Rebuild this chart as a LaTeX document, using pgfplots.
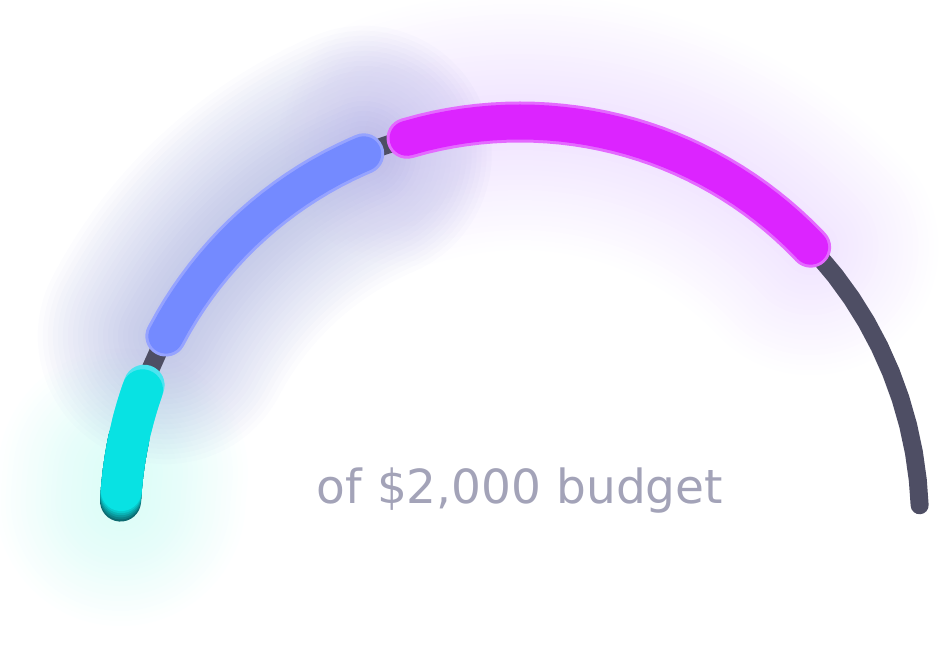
\documentclass[border=0pt]{standalone}
\usepackage{pgfplots}
\pgfplotsset{compat=1.18}
\usepackage{pgfplotstable}
\usepackage{fontspec}
\setmainfont{DejaVu Sans}
\definecolor{trackc}{HTML}{4E4E64}
\definecolor{cyanmain}{HTML}{08E2E3}
\definecolor{cyanlight}{HTML}{4CE4F0}
\definecolor{cyandk}{HTML}{0B6A70}
\definecolor{bluemain}{HTML}{748AFF}
\definecolor{blueedge}{HTML}{96A3FF}
\definecolor{magmain}{HTML}{DC24FF}
\definecolor{magedge}{HTML}{E46AFF}
\definecolor{txtc}{HTML}{A3A3B8}
\definecolor{glowblue}{HTML}{5E6CC0}
\definecolor{glowmag}{HTML}{B070FF}
\definecolor{glowcyan}{HTML}{70F4E0}

% angle (deg), radius (px)
\pgfplotstableread{
a r
2.4 400
6 400
10 400
14 400
18 400
22 400
26 400
30 400
34 400
38 400
42 400
46 400
50 400
54 400
58 400
62 400
66 400
70 400
74 400
78 400
82 400
86 400
90 400
94 400
98 400
102 400
106 400
110 400
114 400
118 400
122 400
126 400
130 400
134 400
138 400
142 400
146 400
150 400
154 400
158 400
162 400
166 400
170 400
174 400
177 400
}\track
\pgfplotstableread{
a r
177 400
176 400
175 400
174 400
173 400
}\cyanglow
\pgfplotstableread{
a r
177.0 400
175 400
173 400
171 400
169 400
168 400
}\cyanA
\pgfplotstableread{
a r
176.7 400
175 400
173 400
171 400
169 400
168 400
}\cyanB
\pgfplotstableread{
a r
176.4 400
175 400
173 400
171 400
169 400
168 400
}\cyanC
\pgfplotstableread{
a r
176.1 400
175 400
173 400
171 400
169 400
168 400
}\cyanD
\pgfplotstableread{
a r
175.8 400
174 400
172 400
170 400
168 400
}\cyanE
\pgfplotstableread{
a r
166 400
164 400
162 400
160 400
}\cyantop
\pgfplotstableread{
a r
175.5 400
173 400
171 400
169 400
167 400
165 400
163 400
161.5 400
160.7 400
}\cyanmainseg
\pgfplotstableread{
a r
152.3 400
150 400
148 400
146 400
144 400
142 400
140 400
138 400
136 400
134 400
132 400
130 400
128 400
126 400
124 400
122 400
120 400
118 400
116 400
114 400
113 400
}\blueseg
\pgfplotstableread{
a r
106.4 400
104 400
102 400
100 400
98 400
96 400
94 400
92 400
90 400
88 400
86 400
84 400
82 400
80 400
78 400
76 400
74 400
72 400
70 400
68 400
66 400
64 400
62 400
60 400
58 400
56 400
54 400
52 400
50 400
48 400
46 400
44 400
43.4 400
}\magseg

\begin{document}
\begin{tikzpicture}
\begin{axis}[
  width=470pt, height=326pt, scale only axis,
  xmin=-520, xmax=420, ymin=-130, ymax=522,
  hide axis, clip=true,
]
% glows
\pgfplotsinvokeforeach{1,...,22}{
  \addplot[data cs=polar, glowcyan, opacity=0.013, line cap=round, line join=round,
    line width={15pt+5pt*#1}] table[x=a,y=r] {\cyanglow};
}
\pgfplotsinvokeforeach{1,...,22}{
  \addplot[data cs=polar, glowblue, opacity=0.018, line cap=round, line join=round,
    line width={18pt+5pt*#1}] table[x=a,y=r] {\blueseg};
}
\pgfplotsinvokeforeach{1,...,22}{
  \addplot[data cs=polar, glowmag, opacity=0.008, line cap=round, line join=round,
    line width={18pt+5pt*#1}] table[x=a,y=r] {\magseg};
}
% track
\addplot[data cs=polar, trackc, line width=9pt, line cap=round, line join=round] table[x=a,y=r] {\track};
% cyan segment with shading
\addplot[data cs=polar, cyandk, line width=20.5pt, line cap=round, line join=round] table[x=a,y=r] {\cyanA};
\addplot[data cs=polar, cyanmain!20!cyandk, line width=20.5pt, line cap=round, line join=round] table[x=a,y=r] {\cyanB};
\addplot[data cs=polar, cyanmain!40!cyandk, line width=20.5pt, line cap=round, line join=round] table[x=a,y=r] {\cyanC};
\addplot[data cs=polar, cyanmain!60!cyandk, line width=20.5pt, line cap=round, line join=round] table[x=a,y=r] {\cyanD};
\addplot[data cs=polar, cyanmain!80!cyandk, line width=20.5pt, line cap=round, line join=round] table[x=a,y=r] {\cyanE};
\addplot[data cs=polar, cyanlight, line width=20.5pt, line cap=round, line join=round] table[x=a,y=r] {\cyantop};
\addplot[data cs=polar, cyanmain, line width=20.5pt, line cap=round, line join=round] table[x=a,y=r] {\cyanmainseg};
% blue segment
\addplot[data cs=polar, blueedge, line width=20.5pt, line cap=round, line join=round] table[x=a,y=r] {\blueseg};
\addplot[data cs=polar, bluemain, line width=17.5pt, line cap=round, line join=round] table[x=a,y=r] {\blueseg};
% magenta segment
\addplot[data cs=polar, magedge, line width=20.5pt, line cap=round, line join=round] table[x=a,y=r] {\magseg};
\addplot[data cs=polar, magmain, line width=17.5pt, line cap=round, line join=round] table[x=a,y=r] {\magseg};
% label
\node[anchor=base, text=txtc, font=\fontsize{23.5pt}{28pt}\selectfont, inner sep=0pt] at (axis cs:0,19) {of \$2,000 budget};
\end{axis}
\pgfresetboundingbox
\path (current axis.south west) rectangle (current axis.north east);
\end{tikzpicture}
\end{document}
